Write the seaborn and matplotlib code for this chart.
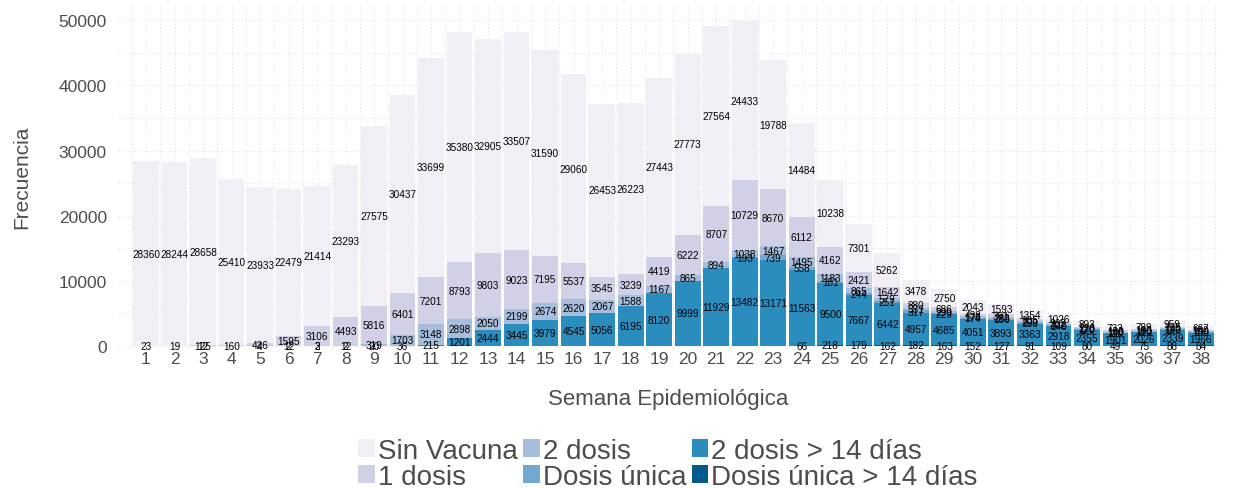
import numpy as np
import pandas as pd
import matplotlib
matplotlib.use("Agg")
import matplotlib.pyplot as plt
from matplotlib.patches import Patch
import matplotlib.ticker as tck
import seaborn as sns

# %% datos
semanas = list(range(1, 39))
sin_vacuna = [28360, 28244, 28658, 25410, 23933, 22479, 21414, 23293, 27575, 30437,
              33699, 35380, 32905, 33507, 31590, 29060, 26453, 26223, 27443, 27773,
              27564, 24433, 19788, 14484, 10238, 7301, 5262, 3478, 2750, 2043,
              1593, 1354, 1026, 893, 733, 789, 959, 667]
una_dosis = [23, 19, 125, 160, 426, 1595, 3106, 4493, 5816, 6401,
             7201, 8793, 9803, 9023, 7195, 5537, 3545, 3239, 4419, 6222,
             8707, 10729, 8670, 6112, 4162, 2421, 1642, 880, 686, 438,
             391, 305, 262, 220, 190, 180, 225, 180]
dos_dosis = [0, 0, 12, 0, 4, 12, 3, 12, 319, 1703,
             3148, 2898, 2050, 2199, 2674, 2620, 2067, 1588, 1167, 865,
             894, 1038, 1467, 1495, 1183, 865, 579, 331, 290, 178,
             283, 209, 202, 170, 140, 190, 192, 150]
dosis_unica = [0, 0, 0, 0, 0, 0, 0, 0, 0, 0,
               0, 0, 0, 0, 0, 0, 0, 0, 0, 0,
               0, 193, 739, 558, 181, 244, 251, 317, 229, 174,
               180, 150, 140, 120, 110, 110, 120, 100]
dos_dosis_14 = [0, 0, 0, 0, 0, 2, 2, 2, 20, 36,
                215, 1201, 2444, 3445, 3979, 4545, 5056, 6195, 8120, 9999,
                11929, 13482, 13171, 11563, 9500, 7667, 6442, 4957, 4685, 4051,
                3893, 3363, 2918, 2355, 1901, 2026, 2339, 1966]
dosis_unica_14 = [0, 0, 0, 0, 0, 0, 0, 0, 0, 0,
                  0, 0, 0, 0, 0, 0, 0, 0, 0, 0,
                  0, 0, 0, 66, 218, 179, 162, 182, 163, 152,
                  127, 91, 109, 80, 49, 75, 88, 84]

categorias = ["Sin Vacuna", "1 dosis", "2 dosis", "Dosis única",
              "2 dosis > 14 días", "Dosis única > 14 días"]
colores = ["#f1eef6", "#d0d1e6", "#a6bddb", "#74a9cf", "#2b8cbe", "#045a8d"]

df = pd.DataFrame({"semana": semanas})
for cat, vals in zip(categorias, [sin_vacuna, una_dosis, dos_dosis, dosis_unica,
                                  dos_dosis_14, dosis_unica_14]):
    df[cat] = vals
# se apila desde abajo: Dosis única > 14 días ... Sin Vacuna arriba
acum = df[categorias[::-1]].cumsum(axis=1)

# %% figura
plt.rcParams['font.family'] = ['Liberation Sans', 'DejaVu Sans']
fig = plt.figure(figsize=(12.44, 4.89), dpi=100, facecolor='white')
ax = fig.add_axes([0.0949, 0.2863, 0.8842, 0.7035])

for cat, col in zip(categorias, colores):
    sns.barplot(x=df["semana"], y=acum[cat], native_scale=True, color=col,
                saturation=1, width=0.9, errorbar=None, linewidth=0, ax=ax, zorder=2)

for cat in categorias:
    for sem, v, top in zip(df["semana"], df[cat], acum[cat]):
        if v > 0:
            ax.text(sem, top - v / 2, str(v), ha='center', va='center',
                    fontsize=7.2, color='black', zorder=3)

ax.set_xlim(0.02, 38.6)
ax.set_ylim(-300, 52500)
ax.set_xticks(semanas)
ax.xaxis.set_minor_locator(tck.FixedLocator(np.arange(0.5, 39, 1)))
ax.yaxis.set_major_locator(tck.MultipleLocator(10000))
ax.yaxis.set_minor_locator(tck.MultipleLocator(5000))
ax.grid(which='both', axis='both', color='#e3e3e3', linestyle=(0, (1, 2)), linewidth=0.8, zorder=0)
ax.set_axisbelow(True)
for s in ax.spines.values():
    s.set_visible(False)
ax.tick_params(which='both', length=0)
ax.tick_params(axis='x', labelsize=12.5, labelcolor='#4d4d4d', pad=2)
ax.tick_params(axis='y', labelsize=12.5, labelcolor='#4d4d4d', pad=8)
ax.set_xlabel("Semana Epidemiológica", fontsize=16, color='#4d4d4d', labelpad=16)
ax.set_ylabel("Frecuencia", fontsize=15, color='#4d4d4d', labelpad=20)

handles = [Patch(facecolor=c, edgecolor='none') for c in colores]
fig.legend(handles, categorias, ncol=3, loc='center', bbox_to_anchor=(668 / 1244, 1 - 465 / 489),
           frameon=False, fontsize=20, handlelength=0.6, handleheight=0.6,
           handletextpad=0.1, columnspacing=0.2, labelspacing=0.0, labelcolor='#4d4d4d')

plt.savefig('out.png', dpi=100, facecolor='white')
